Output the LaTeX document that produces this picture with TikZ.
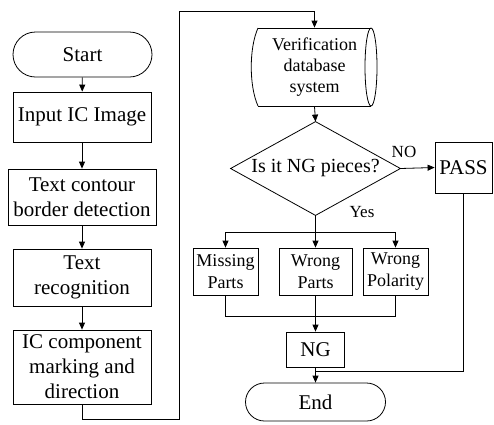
\documentclass[tikz,border=0pt]{standalone}
\usepackage{fontspec}
\setmainfont{Liberation Serif}
\usetikzlibrary{arrows.meta}
\begin{document}
\begin{tikzpicture}[x=1pt,y=-1pt,
  line width=0.8pt,
  box/.style={draw, rectangle, inner sep=0pt, align=center, font=\fontsize{21}{25}\selectfont},
  sbox/.style={draw, rectangle, inner sep=0pt, align=center, font=\fontsize{18}{22}\selectfont},
  term/.style={draw, rectangle, inner sep=0pt, align=center, font=\fontsize{21}{25}\selectfont},
  lbl/.style={inner sep=0pt, font=\fontsize{17}{20}\selectfont},
  arr/.style={-{Triangle[length=7pt,width=6pt]}}]
\useasboundingbox (0,0) rectangle (494,424);
% left column
\node[term, minimum width=139pt, minimum height=45pt, rounded corners=22.5pt] (start) at (82.5,54.5) {Start};
\node[box, minimum width=138pt, minimum height=50pt] (input) at (82,117) {Input IC Image};
\node[box, minimum width=148pt, minimum height=56pt] (contour) at (82,197) {Text contour\\border detection};
\node[box, minimum width=138pt, minimum height=57pt] (recog) at (82,277.5) {Text\\recognition};
\node[box, minimum width=138pt, minimum height=74pt] (ic) at (82,367) {IC component\\marking and\\direction};
% database
\node[inner sep=0pt, minimum width=125pt, minimum height=78pt, align=center, font=\fontsize{18}{21}\selectfont] (db) at (314.5,67) {Verification\\database\\system};
\draw (258,28) -- (371,28);
\draw (258,106) -- (371,106);
\draw (258,28) .. controls (249,48) and (249,86) .. (258,106);
\draw (371,67) ellipse [x radius=6pt, y radius=39pt];
% decision
\node[inner sep=0pt, minimum width=169pt, minimum height=93pt, font=\fontsize{20}{24}\selectfont] (dec) at (315.5,168.5) {Is it NG pieces?};
\draw (dec.north) -- (dec.east) -- (dec.south) -- (dec.west) -- cycle;
\node[box, minimum width=57pt, minimum height=51pt] (pass) at (463.5,167.5) {PASS};
% branches
\node[sbox, minimum width=65pt, minimum height=47pt] (missing) at (225.5,271.5) {Missing\\Parts};
\node[sbox, minimum width=73pt, minimum height=47pt] (wrongp) at (315.5,271.5) {Wrong\\Parts};
\node[sbox, minimum width=65pt, minimum height=47pt] (polar) at (395.5,271.5) {Wrong\\Polarity};
\node[box, minimum width=58pt, minimum height=35pt] (ng) at (315.5,349.5) {NG};
\node[term, minimum width=140pt, minimum height=38pt, rounded corners=19pt] (end) at (315.5,402) {End};
% labels
\node[lbl] (no) at (404,152) {NO};
\node[lbl] (yes) at (362,212) {Yes};
% coordinates
\coordinate (c1) at (179,419);
\coordinate (c2) at (179,11);
\coordinate (j1) at (315.5,232);
\coordinate (j2) at (315.5,316);
\coordinate (j3) at (315.5,371);
% connectors
\draw[arr] (start) -- (input);
\draw[arr] (input) -- (contour);
\draw[arr] (contour) -- (recog);
\draw[arr] (recog) -- (ic);
\draw[arr] (ic.south) |- (c1) -- (c2) -| (db.north);
\draw[arr] (db.south) -- (dec.north);
\draw[arr] (dec.east) -- (pass.west);
\draw[arr] (dec.south) -- (wrongp.north);
\draw[arr] (j1) -| (missing.north);
\draw[arr] (j1) -| (polar.north);
\draw (missing.south) |- (j2);
\draw (polar.south) |- (j2);
\draw[arr] (wrongp.south) -- (ng.north);
\draw[arr] (ng.south) -- (end.north);
\draw (pass.south) |- (j3);
\end{tikzpicture}
\end{document}
